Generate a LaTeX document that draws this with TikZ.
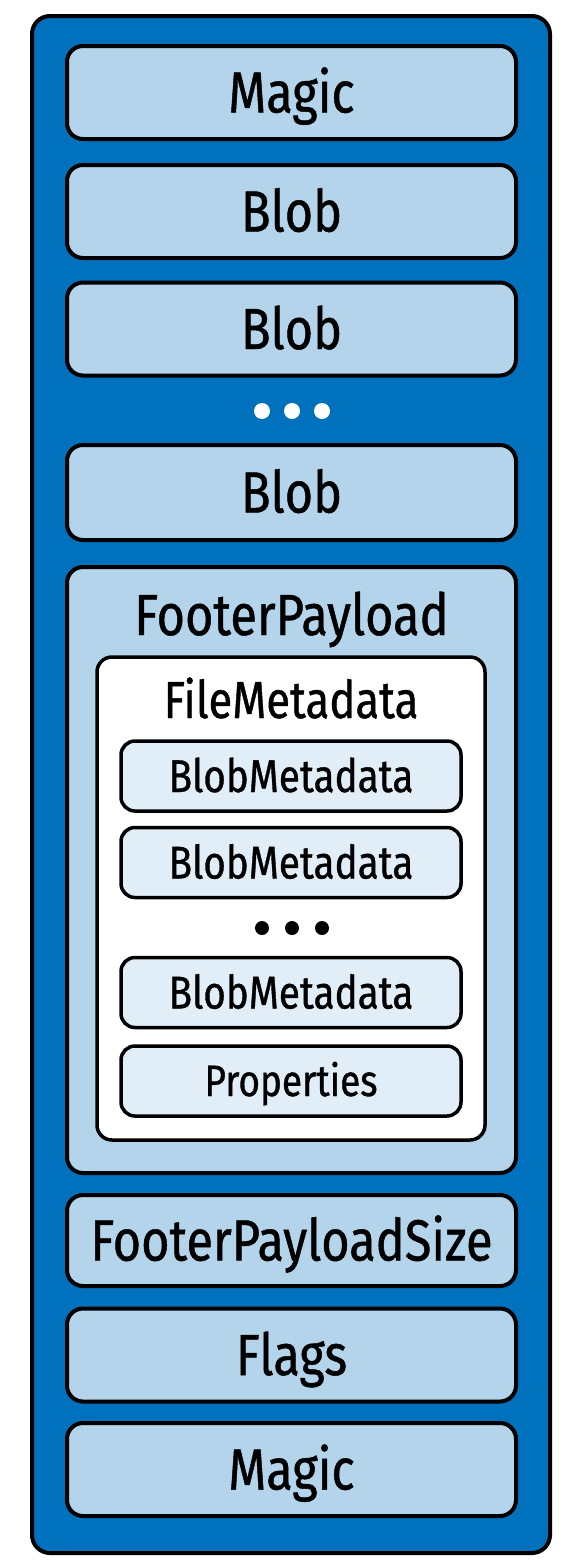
\documentclass[tikz,border=0pt]{standalone}
\usepackage{fontspec}
\setmainfont{Fira Sans}[FakeStretch=0.84, FakeBold=0.8]
\usepackage{tikz}
\definecolor{fileblue}{RGB}{0,113,188}
\definecolor{fieldblue}{RGB}{179,212,234}
\definecolor{metablue}{RGB}{225,238,248}
\tikzset{
  field/.style={draw=black, line width=4pt, rounded corners=16pt, fill=fieldblue,
    minimum width=449pt, minimum height=93pt, inner sep=0pt,
    text height=40pt, text depth=0pt, font=\fontsize{58}{60}\selectfont},
  meta/.style={draw=black, line width=3.5pt, rounded corners=14pt, fill=metablue,
    minimum width=340pt, minimum height=70pt, inner sep=0pt,
    text height=32pt, text depth=0pt, font=\fontsize{46}{48}\selectfont},
  dotmark/.style={circle, inner sep=0pt, minimum size=16pt}
}

\begin{document}
\begin{tikzpicture}[x=1pt,y=-1pt]
\useasboundingbox (0,0) rectangle (580,1566);
% puffin file
\node[draw=black, line width=4pt, rounded corners=18pt, fill=fileblue,
  minimum width=518pt, minimum height=1537pt] (file) at (291,784.5) {};
\node[field] (magic1) at (291.5,92.5) {Magic};
\node[field] (blob1) at (291.5,211.5) {Blob};
\node[field] (blob2) at (291.5,329) {Blob};
\foreach \x in {262, 292, 322} \node[dotmark, fill=white] (wdot\x) at (\x,411) {};
\node[field, minimum height=95pt] (blob3) at (291.5,492.5) {Blob};
% footer
\node[field, minimum height=606pt] (footer) at (291.5,870) {};
\node[font=\fontsize{58}{60}\selectfont, text height=40pt, text depth=0pt, inner sep=0pt] (footerlabel) at (291.5,615) {FooterPayload};
\node[draw=black, line width=3.5pt, rounded corners=15pt, fill=white,
  minimum width=388pt, minimum height=483pt] (filemeta) at (291,898.5) {};
\node[font=\fontsize{52}{54}\selectfont, text height=36pt, text depth=0pt, inner sep=0pt] (filemetalabel) at (291,700) {FileMetadata};
\node[meta] (bmeta1) at (291,776) {BlobMetadata};
\node[meta] (bmeta2) at (291,862.5) {BlobMetadata};
\foreach \x in {262, 292, 322} \node[dotmark, minimum size=14pt, fill=black] (bdot\x) at (\x,928) {};
\node[meta] (bmeta3) at (291,992.5) {BlobMetadata};
\node[meta, text height=30pt, font=\fontsize{44}{46}\selectfont] (props) at (291,1081) {Properties};
\node[field, minimum height=91pt] (footersize) at (291.5,1240.5) {FooterPayloadSize};
\node[field] (flags) at (291.5,1355) {Flags};
\node[field] (magic2) at (291.5,1469.5) {Magic};
\end{tikzpicture}
\end{document}
